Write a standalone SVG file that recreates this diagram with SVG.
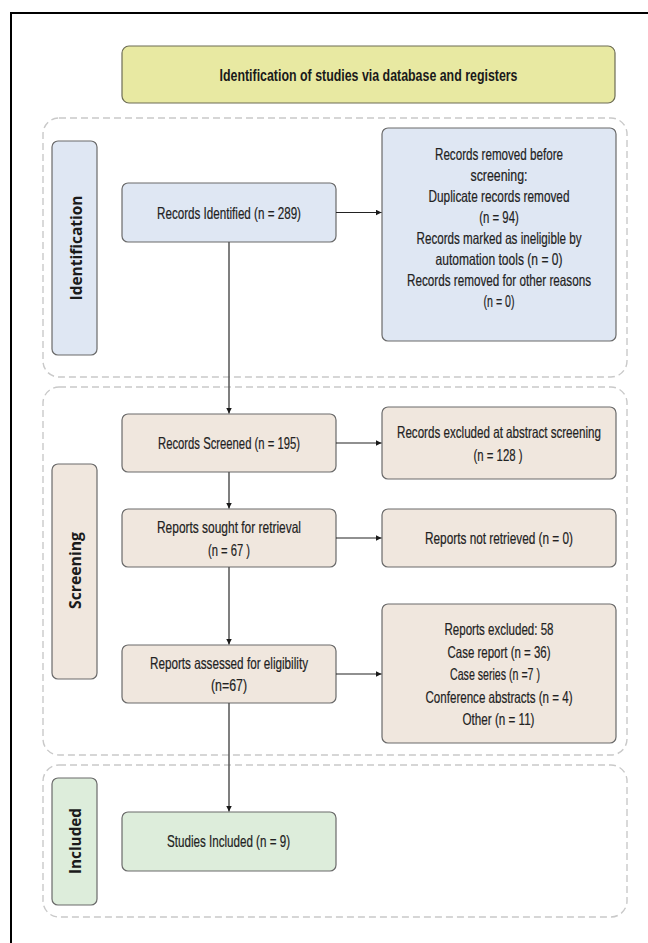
<svg xmlns="http://www.w3.org/2000/svg" width="648" height="943" viewBox="0 0 648 943">
  <defs>
    <style>
      .frame { fill: none; stroke: #000; stroke-width: 2; }
      .region { fill: none; stroke: #c9c9c9; stroke-width: 1.4; stroke-dasharray: 7 4; }
      .box { stroke: #6a6a6a; stroke-width: 1.2; }
      .title { fill: #e8e9a2; stroke: #6d6d55; stroke-width: 1.2; }
      .blue { fill: #dfe7f3; }
      .beige { fill: #f0e7de; }
      .green { fill: #ddeddb; }
      .t { font-family: "Liberation Sans Narrow", "Liberation Sans", sans-serif; font-size: 16.5px; fill: #222; text-anchor: middle; stroke: #222; stroke-width: 0.2; }
      .tt { font-family: "Liberation Sans Narrow", "Liberation Sans", sans-serif; font-size: 17px; font-weight: bold; fill: #1a1a1a; text-anchor: middle; }
      .lbl { font-family: "Open Sans", "DejaVu Sans", sans-serif; font-size: 16px; font-weight: bold; fill: #1a1a1a; text-anchor: middle; }
      .conn { fill: none; stroke: #555; stroke-width: 1.5; }
      .connh { fill: none; stroke: #222; stroke-width: 1.2; }
    </style>
    <marker id="arr" markerUnits="userSpaceOnUse" markerWidth="7" markerHeight="7" refX="6" refY="3" orient="auto">
      <path d="M0,0 L6,3 L0,6 z" fill="#1a1a1a"/>
    </marker>
  </defs>

  <rect x="0" y="0" width="648" height="943" fill="#ffffff"/>
  <rect class="frame" x="11" y="13" width="700" height="1000"/>

  <!-- Regions -->
  <g id="region-identification">
    <rect class="region" x="43" y="118" width="584" height="259" rx="16"/>
  </g>
  <g id="region-screening">
    <rect class="region" x="43" y="387" width="584" height="368" rx="16"/>
  </g>
  <g id="region-included">
    <rect class="region" x="43" y="765" width="584" height="152" rx="16"/>
  </g>

  <!-- Title -->
  <g id="title">
    <rect class="title" x="122" y="46" width="493" height="57" rx="7"/>
    <text class="tt" x="368.5" y="81" textLength="298" lengthAdjust="spacingAndGlyphs">Identification of studies via database and registers</text>
  </g>

  <!-- Side labels -->
  <g id="label-identification">
    <rect class="box blue" x="52" y="141" width="45" height="214" rx="6"/>
    <text class="lbl" transform="translate(81.5,248) rotate(-90)" x="0" y="0" textLength="105" lengthAdjust="spacingAndGlyphs">Identification</text>
  </g>
  <g id="label-screening">
    <rect class="box beige" x="52" y="464" width="45" height="215" rx="6"/>
    <text class="lbl" transform="translate(80.5,570.5) rotate(-90)" x="0" y="0" textLength="77" lengthAdjust="spacingAndGlyphs">Screening</text>
  </g>
  <g id="label-included">
    <rect class="box green" x="52" y="778" width="45" height="127" rx="6"/>
    <text class="lbl" transform="translate(80.5,841) rotate(-90)" x="0" y="0" textLength="66" lengthAdjust="spacingAndGlyphs">Included</text>
  </g>

  <!-- Nodes -->
  <g id="records-identified">
    <rect class="box blue" x="122" y="183" width="214" height="59" rx="6"/>
    <text class="t" x="229" y="218.5" textLength="144" lengthAdjust="spacingAndGlyphs">Records Identified (n = 289)</text>
  </g>
  <g id="records-removed">
    <rect class="box blue" x="382" y="128" width="234" height="213" rx="6"/>
    <text class="t" x="499" y="159.5" textLength="128" lengthAdjust="spacingAndGlyphs">Records removed before</text>
    <text class="t" x="499" y="180.6" textLength="57" lengthAdjust="spacingAndGlyphs">screening:</text>
    <text class="t" x="499" y="201.7" textLength="141" lengthAdjust="spacingAndGlyphs">Duplicate records removed</text>
    <text class="t" x="499" y="222.8" textLength="39.5" lengthAdjust="spacingAndGlyphs">(n = 94)</text>
    <text class="t" x="499" y="243.9" textLength="165" lengthAdjust="spacingAndGlyphs">Records marked as ineligible by</text>
    <text class="t" x="499" y="265" textLength="127" lengthAdjust="spacingAndGlyphs">automation tools (n = 0)</text>
    <text class="t" x="499" y="286.1" textLength="184" lengthAdjust="spacingAndGlyphs">Records removed for other reasons</text>
    <text class="t" x="499" y="307.2" textLength="31" lengthAdjust="spacingAndGlyphs">(n = 0)</text>
  </g>
  <g id="records-screened">
    <rect class="box beige" x="122" y="414" width="214" height="58" rx="6"/>
    <text class="t" x="229" y="449" textLength="142" lengthAdjust="spacingAndGlyphs">Records Screened (n = 195)</text>
  </g>
  <g id="records-excluded">
    <rect class="box beige" x="382" y="407" width="234" height="72" rx="6"/>
    <text class="t" x="499" y="438" textLength="204" lengthAdjust="spacingAndGlyphs">Records excluded at abstract screening</text>
    <text class="t" x="498" y="460.5" textLength="49" lengthAdjust="spacingAndGlyphs">(n = 128 )</text>
  </g>
  <g id="reports-sought">
    <rect class="box beige" x="122" y="509" width="214" height="58" rx="6"/>
    <text class="t" x="229" y="532.5" textLength="144" lengthAdjust="spacingAndGlyphs">Reports sought for retrieval</text>
    <text class="t" x="229" y="555.5" textLength="42" lengthAdjust="spacingAndGlyphs">(n = 67 )</text>
  </g>
  <g id="reports-not-retrieved">
    <rect class="box beige" x="382" y="509" width="234" height="58" rx="6"/>
    <text class="t" x="499" y="543.5" textLength="148" lengthAdjust="spacingAndGlyphs">Reports not retrieved (n = 0)</text>
  </g>
  <g id="reports-assessed">
    <rect class="box beige" x="122" y="645" width="214" height="58" rx="6"/>
    <text class="t" x="229" y="669" textLength="158" lengthAdjust="spacingAndGlyphs">Reports assessed for eligibility</text>
    <text class="t" x="229" y="691" textLength="36" lengthAdjust="spacingAndGlyphs">(n=67)</text>
  </g>
  <g id="reports-excluded">
    <rect class="box beige" x="382" y="604" width="234" height="139" rx="6"/>
    <text class="t" x="499" y="635" textLength="109" lengthAdjust="spacingAndGlyphs">Reports excluded: 58</text>
    <text class="t" x="499" y="657.5" textLength="103" lengthAdjust="spacingAndGlyphs">Case report (n = 36)</text>
    <text class="t" x="495" y="680" textLength="90" lengthAdjust="spacingAndGlyphs">Case series (n =7 )</text>
    <text class="t" x="499" y="702.5" textLength="147" lengthAdjust="spacingAndGlyphs">Conference abstracts (n = 4)</text>
    <text class="t" x="498.5" y="725" textLength="72" lengthAdjust="spacingAndGlyphs">Other (n = 11)</text>
  </g>
  <g id="studies-included">
    <rect class="box green" x="122" y="812" width="214" height="59" rx="6"/>
    <text class="t" x="228.5" y="847" textLength="123" lengthAdjust="spacingAndGlyphs">Studies Included (n = 9)</text>
  </g>

  <!-- Connectors -->
  <g id="connectors">
    <line class="conn" x1="229" y1="242" x2="229" y2="413.5" marker-end="url(#arr)"/>
    <line class="conn" x1="229" y1="472" x2="229" y2="508.5" marker-end="url(#arr)"/>
    <line class="conn" x1="229" y1="567" x2="229" y2="644.5" marker-end="url(#arr)"/>
    <line class="conn" x1="229" y1="703" x2="229" y2="811.5" marker-end="url(#arr)"/>
    <line class="connh" x1="336" y1="212.5" x2="381.5" y2="212.5" marker-end="url(#arr)"/>
    <line class="connh" x1="336" y1="443" x2="381.5" y2="443" marker-end="url(#arr)"/>
    <line class="connh" x1="336" y1="538" x2="381.5" y2="538" marker-end="url(#arr)"/>
    <line class="connh" x1="336" y1="674" x2="381.5" y2="674" marker-end="url(#arr)"/>
  </g>
</svg>
